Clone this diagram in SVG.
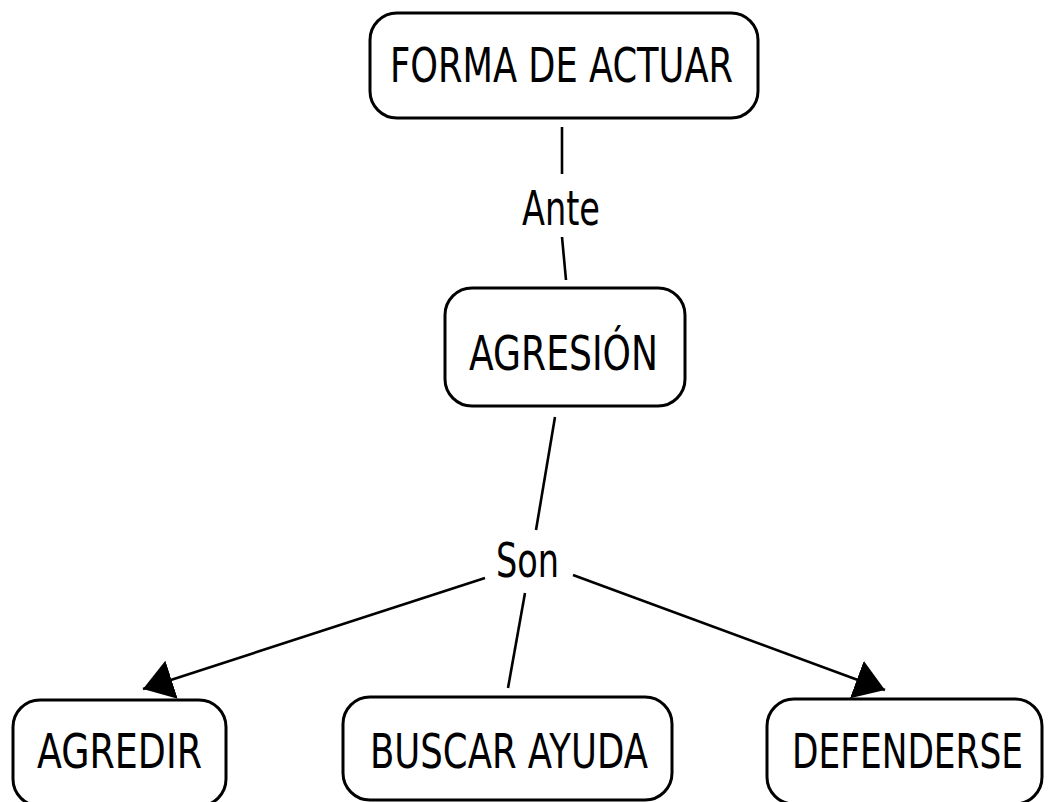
<svg xmlns="http://www.w3.org/2000/svg" width="1049" height="802" viewBox="0 0 1049 802">
<style>
.node rect{fill:#fff;stroke:#000;stroke-width:3}
.node text,.lbl{font-family:"DejaVu Sans","Liberation Sans",sans-serif;font-size:48px;fill:#000;text-anchor:middle}
.conn line{stroke:#000;stroke-width:2.6;fill:none}
</style>
<defs>
<marker id="arr" viewBox="0 0 30 40" refX="30" refY="20" markerWidth="30" markerHeight="40" markerUnits="userSpaceOnUse" orient="auto">
<path d="M0,0 L30,20 L0,40 z" fill="#000"/>
</marker>
</defs>
<rect width="1049" height="802" fill="#fff"/>
<g id="connectors" class="conn">
<line x1="562" y1="127" x2="562" y2="174"/>
<line x1="562" y1="237" x2="566" y2="280"/>
<line x1="555" y1="417" x2="536" y2="530"/>
<line x1="485" y1="578" x2="143" y2="689" marker-end="url(#arr)"/>
<line x1="525" y1="593" x2="508" y2="688"/>
<line x1="573" y1="575" x2="885" y2="690" marker-end="url(#arr)"/>
<text class="lbl" x="561" y="225" textLength="78" lengthAdjust="spacingAndGlyphs">Ante</text>
<text class="lbl" x="527.5" y="577" textLength="63" lengthAdjust="spacingAndGlyphs">Son</text>
</g>
<g id="forma" class="node">
<rect x="370" y="13" width="388" height="105" rx="27"/>
<text x="561.5" y="82" textLength="343" lengthAdjust="spacingAndGlyphs">FORMA DE ACTUAR</text>
</g>
<g id="agresion" class="node">
<rect x="445" y="288" width="240" height="118" rx="27"/>
<text x="563.5" y="370" textLength="189" lengthAdjust="spacingAndGlyphs">AGRESIÓN</text>
</g>
<g id="agredir" class="node">
<rect x="13" y="700" width="213" height="106" rx="27"/>
<text x="119.5" y="768" textLength="165" lengthAdjust="spacingAndGlyphs">AGREDIR</text>
</g>
<g id="buscar" class="node">
<rect x="343" y="697" width="329" height="103" rx="27"/>
<text x="509" y="768" textLength="278" lengthAdjust="spacingAndGlyphs">BUSCAR AYUDA</text>
</g>
<g id="defenderse" class="node">
<rect x="767" y="699" width="275" height="105" rx="27"/>
<text x="907.5" y="768" textLength="231" lengthAdjust="spacingAndGlyphs">DEFENDERSE</text>
</g>
</svg>
